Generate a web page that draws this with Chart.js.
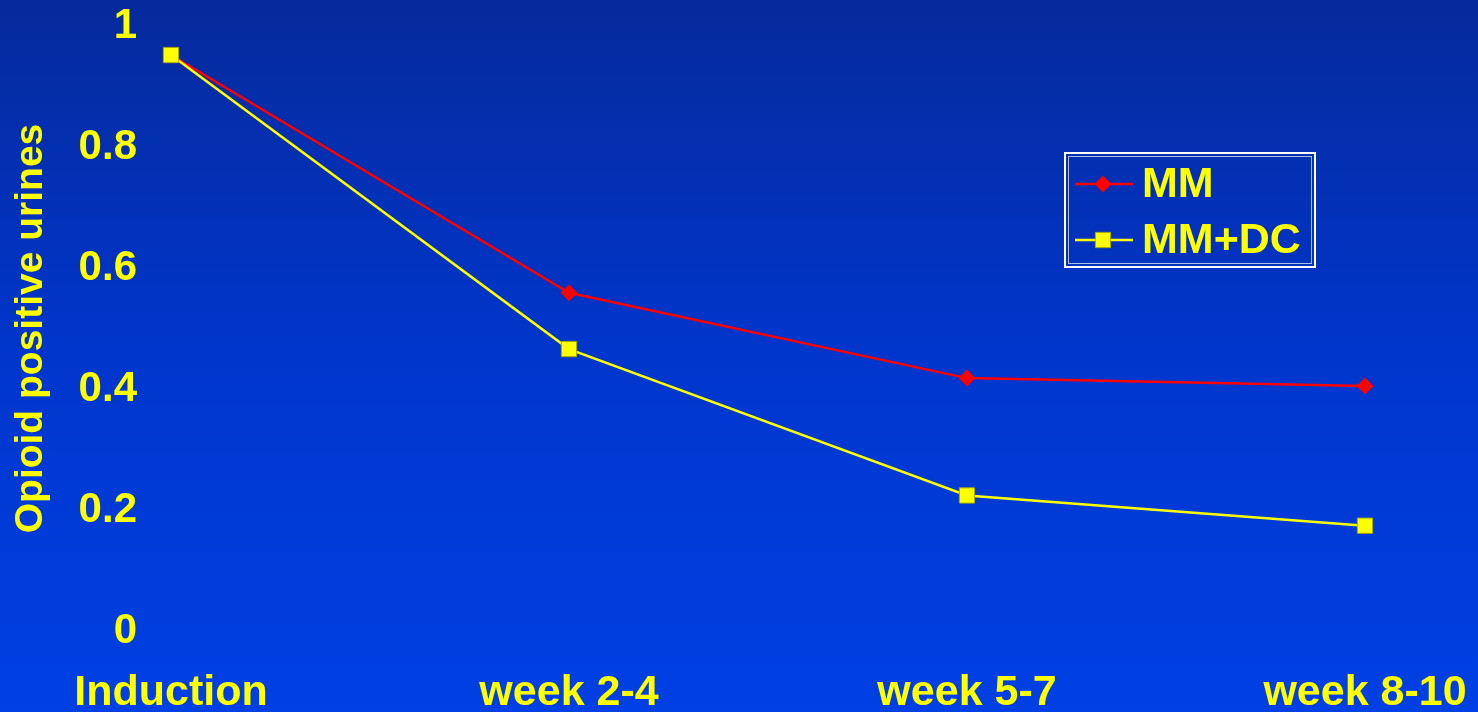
<!DOCTYPE html>
<html>
<head>
<meta charset="utf-8">
<title>Opioid positive urines</title>
<script src="https://cdn.jsdelivr.net/npm/chart.js@4/dist/chart.umd.min.js"></script>
<style>
  html, body { margin: 0; padding: 0; background: #0034c4; }
  #wrap { width: 1478px; height: 712px; position: relative; }
  canvas { display: block; }
</style>
</head>
<body>
<div id="wrap"><canvas id="chart" width="1478" height="712"></canvas></div>
<script>
// Visit periods along the x axis
const periods = ['Induction', 'week 2-4', 'week 5-7', 'week 8-10'];
// Proportion of opioid positive urines per group
const mmValues = [0.952, 0.559, 0.418, 0.405];
const mmDcValues = [0.952, 0.466, 0.224, 0.174];
// Y axis ticks
const yTicks = [0, 0.2, 0.4, 0.6, 0.8, 1];

const YELLOW = '#ffff00';
const RED = '#ff0000';
const FONT = '"Liberation Sans", Arial, sans-serif';

// Vertical blue gradient behind the whole canvas
const backdrop = {
  id: 'backdrop',
  beforeDraw(chart) {
    const { ctx, width, height } = chart;
    const g = ctx.createLinearGradient(0, 0, 0, height);
    g.addColorStop(0, '#062a9c');
    g.addColorStop(0.5, '#0036cc');
    g.addColorStop(1, '#0040e4');
    ctx.save();
    ctx.fillStyle = g;
    ctx.fillRect(0, 0, width, height);
    ctx.restore();
  }
};

// Boxed legend inside the plot, built from the dataset styles
const boxedLegend = {
  id: 'boxedLegend',
  afterDraw(chart) {
    const { ctx } = chart;
    const x0 = 1065, y0 = 153, w = 250, h = 114;
    ctx.save();
    ctx.strokeStyle = '#ffffff';
    ctx.lineWidth = 2;
    ctx.strokeRect(x0, y0, w, h);
    ctx.strokeStyle = 'rgba(220,225,240,0.8)';
    ctx.lineWidth = 1;
    ctx.strokeRect(x0 + 3.5, y0 + 3.5, w - 7, h - 7);
    chart.data.datasets.forEach((ds, i) => {
      const cx = 1103;
      const cy = 184 + i * 56;
      ctx.strokeStyle = ds.borderColor;
      ctx.lineWidth = ds.borderWidth;
      ctx.beginPath();
      ctx.moveTo(1075, cy);
      ctx.lineTo(1133, cy);
      ctx.stroke();
      ctx.fillStyle = ds.pointBackgroundColor;
      ctx.strokeStyle = ds.pointBorderColor;
      ctx.lineWidth = ds.pointBorderWidth;
      ctx.beginPath();
      if (ds.pointStyle === 'rect') {
        const s = Math.SQRT1_2 * ds.pointRadius;
        ctx.rect(cx - s, cy - s, 2 * s, 2 * s);
      } else {
        const r = ds.pointRadius;
        ctx.moveTo(cx - r, cy);
        ctx.lineTo(cx, cy - r);
        ctx.lineTo(cx + r, cy);
        ctx.lineTo(cx, cy + r);
        ctx.closePath();
      }
      ctx.fill();
      if (ds.pointBorderWidth) ctx.stroke();
      ctx.fillStyle = YELLOW;
      ctx.font = 'bold 43px ' + FONT;
      ctx.textAlign = 'left';
      ctx.textBaseline = 'middle';
      ctx.fillText(ds.label, 1142, cy + 1);
    });
    ctx.restore();
  }
};

new Chart(document.getElementById('chart'), {
  type: 'line',
  data: {
    labels: periods,
    datasets: [
      {
        label: 'MM',
        data: mmValues,
        order: 2,
        borderColor: RED,
        borderWidth: 2.5,
        pointStyle: 'rectRot',
        pointRadius: 8.5,
        pointHoverRadius: 8.5,
        pointBackgroundColor: RED,
        pointBorderColor: RED,
        pointBorderWidth: 0,
        tension: 0
      },
      {
        label: 'MM+DC',
        data: mmDcValues,
        order: 1,
        borderColor: YELLOW,
        borderWidth: 2.5,
        pointStyle: 'rect',
        pointRadius: 10.8,
        pointHoverRadius: 10.8,
        pointBackgroundColor: YELLOW,
        pointBorderColor: '#a8a800',
        pointBorderWidth: 1,
        tension: 0
      }
    ]
  },
  options: {
    responsive: false,
    animation: false,
    events: [],
    layout: { padding: 0 },
    plugins: {
      legend: { display: false },
      tooltip: { enabled: false }
    },
    scales: {
      x: {
        type: 'category',
        offset: false,
        grid: { display: false, drawTicks: false },
        border: { display: false },
        ticks: {
          color: YELLOW,
          font: { family: FONT, size: 43, weight: 'bold' },
          padding: 36,
          maxRotation: 0,
          autoSkip: false
        },
        afterFit(scale) {
          scale.height = 81;
          scale.paddingLeft = 0;
          scale.paddingRight = 113;
        }
      },
      y: {
        min: 0,
        max: 1,
        grid: { display: false, drawTicks: false },
        border: { display: false },
        afterBuildTicks(scale) { scale.ticks = yTicks.map(v => ({ value: v })); },
        ticks: {
          color: YELLOW,
          font: { family: FONT, size: 42, weight: 'bold' },
          padding: 34,
          callback: v => String(v)
        },
        title: {
          display: true,
          text: 'Opioid positive urines',
          color: YELLOW,
          font: { family: FONT, size: 39, weight: 'bold' },
          padding: { top: 8, bottom: 0 }
        },
        afterFit(scale) {
          scale.width = 171;
          scale.paddingTop = 26;
          scale.paddingBottom = 0;
        }
      }
    }
  },
  plugins: [backdrop, boxedLegend]
});
</script>
</body>
</html>
